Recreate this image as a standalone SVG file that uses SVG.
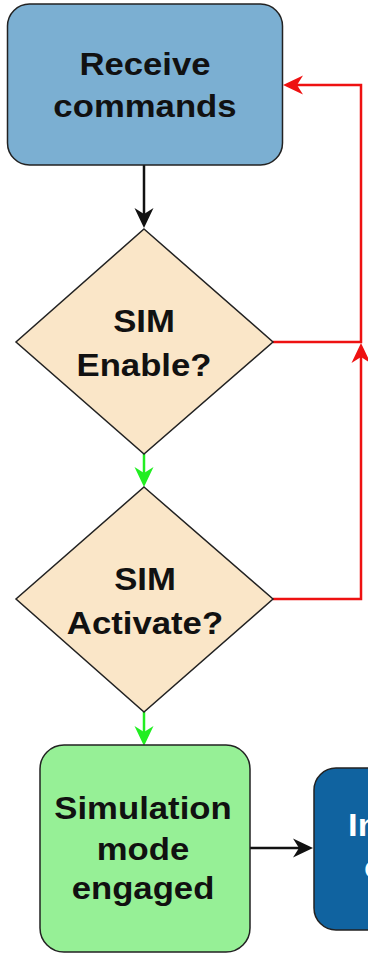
<svg xmlns="http://www.w3.org/2000/svg" width="368" height="954" viewBox="0 0 368 954">
<defs>
<style>
.lbl{font-family:"Liberation Sans",Arial,Helvetica,sans-serif;font-weight:bold;font-size:31px;fill:#111111;text-anchor:middle;}
.wl{font-family:"Liberation Sans",Arial,Helvetica,sans-serif;font-weight:bold;font-size:31px;fill:#ffffff;}
.node{stroke:#222222;stroke-width:1.5;}
.c{fill:none;stroke-width:2.5;}
</style>
<marker id="ak" markerUnits="userSpaceOnUse" viewBox="-9 -11 24 22" refX="0" refY="0" markerWidth="24" markerHeight="22" orient="auto"><path d="M13,0 L-7,-9.5 L-1,0 L-7,9.5 Z" fill="#111111"/></marker>
<marker id="ar" markerUnits="userSpaceOnUse" viewBox="-9 -11 24 22" refX="0" refY="0" markerWidth="24" markerHeight="22" orient="auto"><path d="M13,0 L-7,-9.5 L-1,0 L-7,9.5 Z" fill="#EE1111"/></marker>
<marker id="ag" markerUnits="userSpaceOnUse" viewBox="-9 -11 24 22" refX="0" refY="0" markerWidth="24" markerHeight="22" orient="auto"><path d="M13,0 L-7,-9.5 L-1,0 L-7,9.5 Z" fill="#22EE22"/></marker>
</defs>
<rect width="368" height="954" fill="#ffffff"/>
<g id="connectors">
<path class="c" d="M144,165 V215" stroke="#111111" marker-end="url(#ak)"/>
<path class="c" d="M144,454 V474" stroke="#22EE22" marker-end="url(#ag)"/>
<path class="c" d="M144,712 V733" stroke="#22EE22" marker-end="url(#ag)"/>
<path class="c" d="M250,848 H300" stroke="#111111" marker-end="url(#ak)"/>
<path class="c" d="M273,342 H361 V85 H296" stroke="#EE1111" marker-end="url(#ar)"/>
<path class="c" d="M273,599 H361 V356" stroke="#EE1111" marker-end="url(#ar)"/>
</g>
<g id="receive">
<rect class="node" x="7.5" y="4" width="275" height="161" rx="22" fill="#7BAFD2"/>
<text class="lbl" transform="translate(145 0) scale(1.12 1)" x="0" y="75">Receive</text>
<text class="lbl" transform="translate(145 0) scale(1.12 1)" x="0" y="117">commands</text>
</g>
<g id="sim-enable">
<polygon class="node" points="144,229 273,342 144,454 16,342" fill="#FAE6C8"/>
<text class="lbl" transform="translate(144 0) scale(1.12 1)" x="0" y="332">SIM</text>
<text class="lbl" transform="translate(144 0) scale(1.12 1)" x="0" y="376">Enable?</text>
</g>
<g id="sim-activate">
<polygon class="node" points="144,487 273,599 144,712 16,599" fill="#FAE6C8"/>
<text class="lbl" transform="translate(145 0) scale(1.12 1)" x="0" y="590">SIM</text>
<text class="lbl" transform="translate(145 0) scale(1.12 1)" x="0" y="634">Activate?</text>
</g>
<g id="simulation">
<rect class="node" x="40" y="745" width="210" height="207" rx="24" fill="#96F096"/>
<text class="lbl" transform="translate(143 0) scale(1.12 1)" x="0" y="819">Simulation</text>
<text class="lbl" transform="translate(143 0) scale(1.12 1)" x="0" y="860">mode</text>
<text class="lbl" transform="translate(143 0) scale(1.12 1)" x="0" y="899">engaged</text>
</g>
<g id="next">
<rect class="node" x="314" y="768" width="120" height="162" rx="22" fill="#1063A0"/>
<text class="wl" transform="translate(348 0) scale(1.12 1)" x="0" y="836">In</text>
<text class="wl" transform="translate(364 0) scale(1.12 1)" x="0" y="878">c</text>
</g>
</svg>
